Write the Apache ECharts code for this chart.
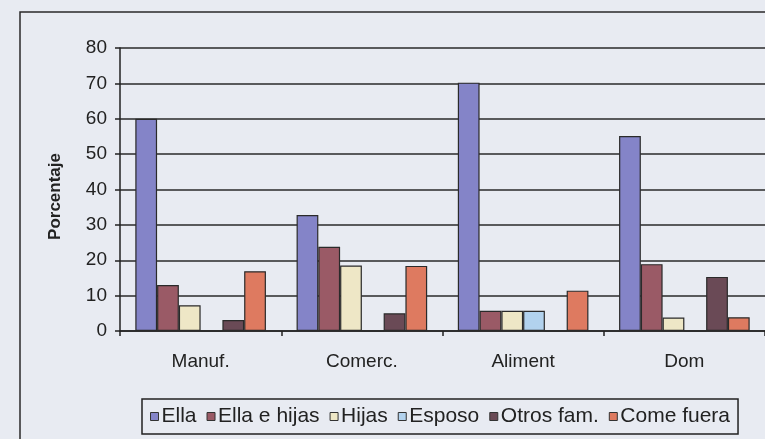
<!DOCTYPE html>
<html>
<head>
<meta charset="utf-8">
<script src="https://cdn.jsdelivr.net/npm/echarts@6/dist/echarts.min.js"></script>
<style>
html,body{margin:0;padding:0;background:#e8ebf2;}
#c{width:765px;height:439px;}
</style>
</head>
<body>
<div id="c"></div>
<script>
const categories = ['Manuf.', 'Comerc.', 'Aliment', 'Dom'];
const seriesNames = ['Ella', 'Ella e hijas', 'Hijas', 'Esposo', 'Otros fam.', 'Come fuera'];
const ella = [60, 32.8, 70.2, 55.1];
const ellaHijas = [13, 23.8, 5.7, 18.9];
const hijas = [7.3, 18.5, 5.7, 3.8];
const esposo = [0, 0, 5.7, 0];
const otros = [3.1, 5, 0, 15.3];
const comeFuera = [16.9, 18.4, 11.4, 3.9];
const yTicks = [0, 10, 20, 30, 40, 50, 60, 70, 80];

const values = [ella, ellaHijas, hijas, esposo, otros, comeFuera];
const colors = ['#8484c8', '#9a5a66', '#eee7c6', '#b2d2ee', '#6a4a56', '#de7a60'];

const chart = echarts.init(document.getElementById('c'));
const font = 'Liberation Sans, Arial, sans-serif';
chart.setOption({
  backgroundColor: '#e8ebf2',
  animation: false,
  textStyle: {fontFamily: font},
  graphic: [{
    type: 'rect', silent: true, z: -1,
    shape: {x: 20, y: 12, width: 800, height: 500},
    style: {fill: 'none', stroke: '#2a2a2a', lineWidth: 1.5}
  }],
  grid: {left: 120, top: 48, width: 650, height: 283},
  legend: {
    data: seriesNames,
    left: 142, top: 399,
    icon: 'rect', itemWidth: 8, itemHeight: 8, itemGap: 10,
    padding: [7, 8, 7, 8],
    borderColor: '#222', borderWidth: 1.5,
    itemStyle: {borderColor: '#333', borderWidth: 1},
    textStyle: {fontSize: 21, lineHeight: 21, color: '#222', fontFamily: font, padding: [0, 0, 0, -2]}
  },
  xAxis: {
    type: 'category', data: categories,
    axisLine: {lineStyle: {color: '#222', width: 1.5}},
    axisTick: {show: true, length: 5, lineStyle: {color: '#222', width: 1.5}},
    axisLabel: {fontSize: 19, color: '#222', margin: 21, fontFamily: font}
  },
  yAxis: {
    type: 'value', min: yTicks[0], max: yTicks[yTicks.length - 1], interval: 10,
    name: 'Porcentaje', nameLocation: 'middle', nameGap: 56, nameRotate: 90,
    nameTextStyle: {fontSize: 17, fontWeight: 'bold', color: '#222', fontFamily: font, padding: [0, 14, 0, 0]},
    axisLine: {show: true, lineStyle: {color: '#222', width: 1.5}},
    axisTick: {show: true, length: 5, lineStyle: {color: '#222', width: 1.5}},
    axisLabel: {fontSize: 19, color: '#222', margin: 13, fontFamily: font},
    splitLine: {lineStyle: {color: '#2a2a2a', width: 1.5}}
  },
  series: seriesNames.map((n, i) => ({
    name: n, type: 'bar', data: values[i],
    barGap: '0%', barCategoryGap: '19%',
    itemStyle: {color: colors[i], borderColor: '#2a2a2a', borderWidth: 1.2}
  }))
});
</script>
</body>
</html>
